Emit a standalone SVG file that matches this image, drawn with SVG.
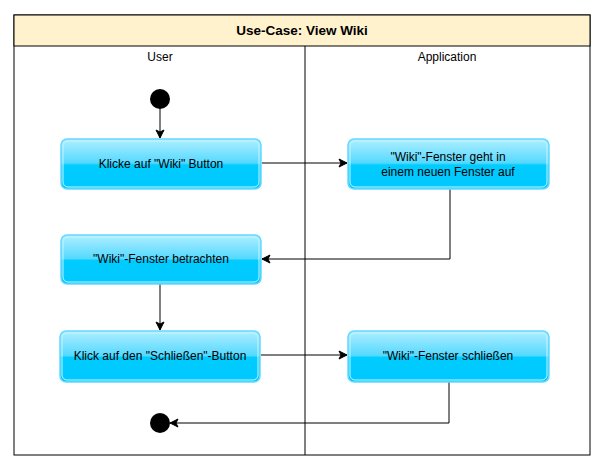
<svg xmlns="http://www.w3.org/2000/svg" width="604" height="471" viewBox="0 0 604 471">
<defs>
<linearGradient id="g" x1="0" y1="0" x2="0" y2="1">
<stop offset="0" stop-color="#b0eeff"/>
<stop offset="0.48" stop-color="#55d9ff"/>
<stop offset="0.52" stop-color="#00ccff"/>
<stop offset="1" stop-color="#00c8ff"/>
</linearGradient>
<marker id="a" markerWidth="10" markerHeight="10" refX="9" refY="5" orient="auto" markerUnits="userSpaceOnUse">
<path d="M1,1 L9,5 L1,9 L3,5 Z" fill="#000" stroke="#000" stroke-width="1"/>
</marker>
<style>
text{font-family:"Liberation Sans",Arial,sans-serif;font-size:12px;fill:#000;text-anchor:middle}
.t{font-weight:bold;font-size:13.5px}
.n{fill:url(#g);stroke:#66d9ff;stroke-width:1.5}
.ni{fill:none;stroke:#c8f4ff;stroke-width:1}
.c{fill:none;stroke:#000;stroke-width:1}
</style>
</defs>
<rect x="0" y="0" width="604" height="471" fill="#fff"/>
<g id="pool">
<rect x="14" y="15" width="576" height="440" fill="#fff" stroke="#000" stroke-width="1"/>
<rect x="14" y="15" width="576" height="31" fill="#fff2cc" stroke="#000" stroke-width="1"/>
<text class="t" x="302" y="35">Use-Case: View Wiki</text>
<line x1="305" y1="46" x2="305" y2="455" stroke="#000"/>
<text x="160" y="61">User</text>
<text x="447" y="61">Application</text>
</g>
<g id="connectors">
<line class="c" x1="160" y1="108" x2="160" y2="138" marker-end="url(#a)"/>
<line class="c" x1="262" y1="163" x2="347" y2="163" marker-end="url(#a)"/>
<polyline class="c" points="450,189 450,259 262,259" marker-end="url(#a)"/>
<line class="c" x1="160" y1="284" x2="160" y2="330" marker-end="url(#a)"/>
<line class="c" x1="261" y1="355" x2="347" y2="355" marker-end="url(#a)"/>
<polyline class="c" points="449,382 449,423 170,423" marker-end="url(#a)"/>
</g>
<g id="start"><circle cx="160" cy="99" r="10" fill="#000"/></g>
<g id="n1">
<rect class="n" x="61" y="139" width="200" height="50" rx="6"/>
<rect class="ni" x="63" y="141" width="196" height="46" rx="5"/>
<text x="161" y="168">Klicke auf "Wiki" Button</text>
</g>
<g id="n2">
<rect class="n" x="348" y="139" width="201" height="50" rx="6"/>
<rect class="ni" x="350" y="141" width="197" height="46" rx="5"/>
<text x="448" y="161">"Wiki"-Fenster geht in</text>
<text x="448" y="176">einem neuen Fenster auf</text>
</g>
<g id="n3">
<rect class="n" x="61" y="235" width="200" height="49" rx="6"/>
<rect class="ni" x="63" y="237" width="196" height="45" rx="5"/>
<text x="161" y="263">"Wiki"-Fenster betrachten</text>
</g>
<g id="n4">
<rect class="n" x="60" y="331" width="200" height="51" rx="6"/>
<rect class="ni" x="62" y="333" width="196" height="47" rx="5"/>
<text x="160" y="360">Klick auf den "Schließen"-Button</text>
</g>
<g id="n5">
<rect class="n" x="348" y="331" width="201" height="51" rx="6"/>
<rect class="ni" x="350" y="333" width="197" height="47" rx="5"/>
<text x="448" y="360">"Wiki"-Fenster schließen</text>
</g>
<g id="end"><circle cx="160" cy="423" r="10" fill="#000"/></g>
</svg>
